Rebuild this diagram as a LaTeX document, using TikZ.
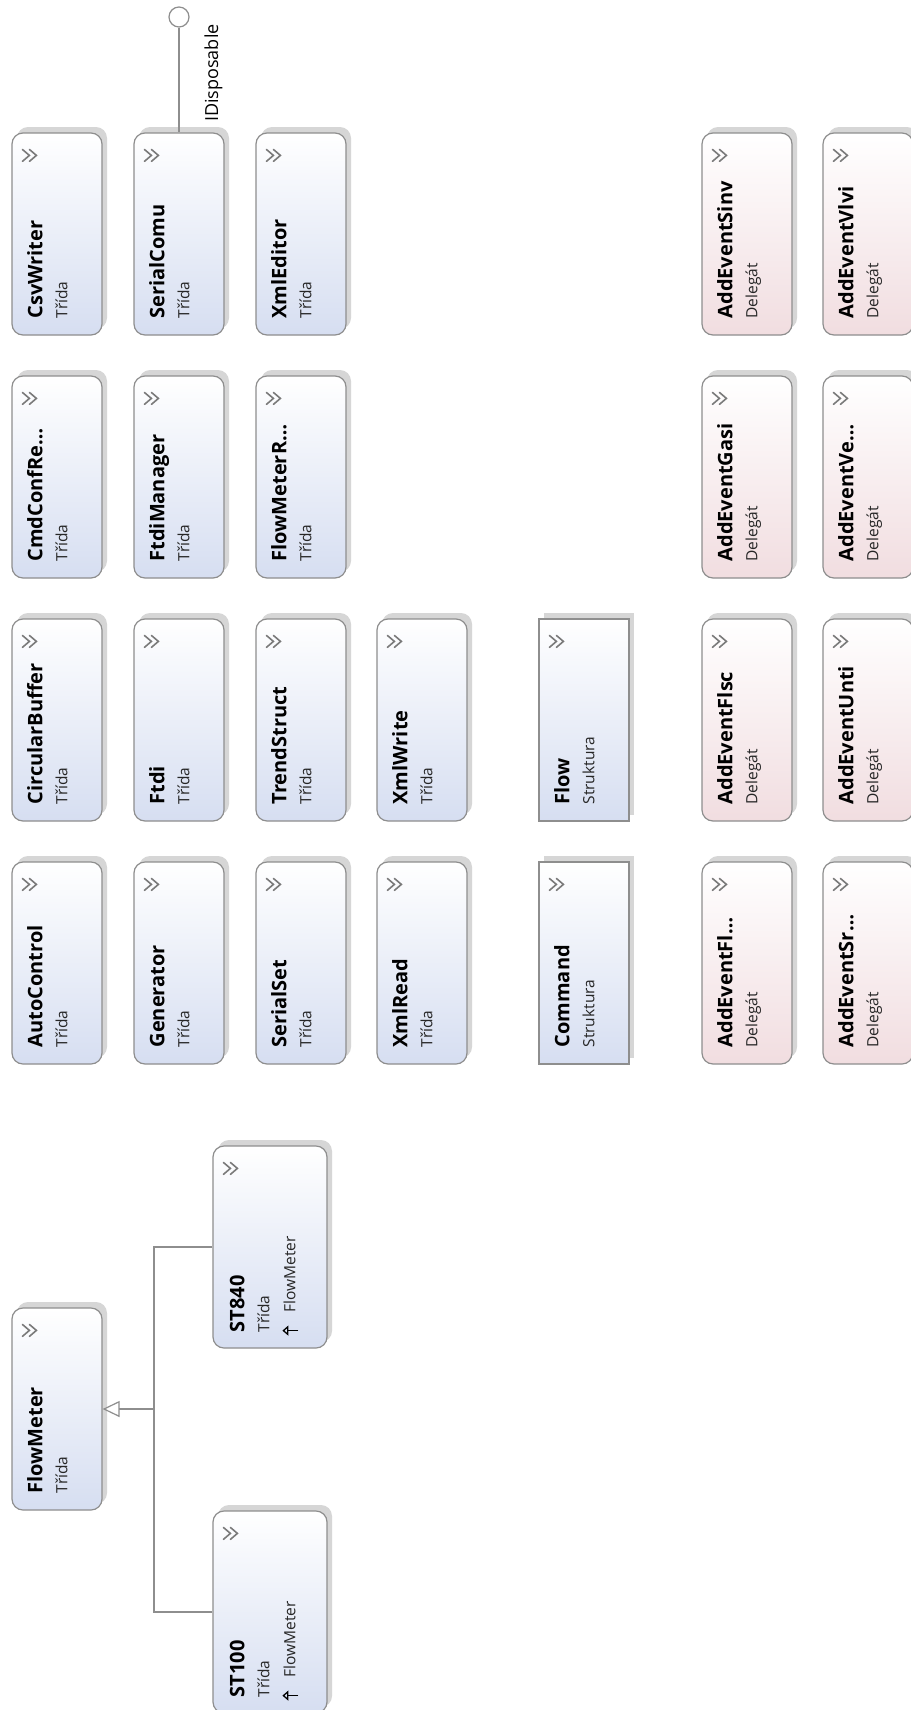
\documentclass[tikz,border=0pt]{standalone}
\usepackage{fontspec}
\setmainfont{Open Sans}
\usetikzlibrary{arrows.meta,calc,shadows}

\definecolor{classblue}{HTML}{D6DEF1}
\definecolor{delegatepink}{HTML}{F1DDE0}
\definecolor{boxline}{HTML}{8E8E8E}
\definecolor{boxshadow}{HTML}{D6D6D6}
\definecolor{chevgray}{HTML}{7A7A7A}

\begin{document}
\begin{tikzpicture}[
        x=1pt, y=-1pt,
        >=Stealth,
        typebox/.style={draw=boxline, line width=1.2pt, rounded corners=11pt,
            minimum width=90pt, minimum height=202pt, inner sep=0pt,
            drop shadow={shadow xshift=5pt, shadow yshift=6pt, fill=boxshadow, opacity=1}},
        classbox/.style={typebox, top color=white, bottom color=classblue},
        delegatebox/.style={typebox, top color=white, bottom color=delegatepink},
        structbox/.style={classbox, sharp corners},
        nametext/.style={rotate=90, anchor=base west, inner sep=0pt,
            font=\fontsize{20}{24}\selectfont\bfseries},
        kindtext/.style={rotate=90, anchor=base west, inner sep=0pt, text=black!85,
            font=\fontsize{15.5}{19}\selectfont},
        chevron/.style={draw=chevgray, line width=1.6pt, line cap=round},
        link/.style={draw=boxline, line width=1.2pt}
    ]

\path[use as bounding box, fill=white] (0,0) rectangle (910,1710);

% classes
\foreach \id/\cx/\cy/\title in {
        csv/57/234/CsvWriter, cmdconf/57/477/CmdConfRe…, circbuf/57/720/CircularBuffer, autoctl/57/963/AutoControl,
        serialcomu/179/234/SerialComu, ftdimgr/179/477/FtdiManager, ftdi/179/720/Ftdi, generator/179/963/Generator,
        xmleditor/301/234/XmlEditor, flowmeterr/301/477/FlowMeterR…, trend/301/720/TrendStruct, serialset/301/963/SerialSet,
        xmlwrite/422/720/XmlWrite, xmlread/422/963/XmlRead,
        flowmeter/57/1409/FlowMeter}{
    \node[classbox] (\id) at (\cx,\cy) {};
    \node[nametext] (\id-name) at ($(\id.south west)+(31,-17)$) {\title};
    \node[kindtext] (\id-kind) at ($(\id.south west)+(56,-17)$) {Třída};
    \draw[chevron] ($(\id.north west)+(11,17)$) -- ++(7,6) -- ++(-7,6)
        ($(\id.north west)+(18,17)$) -- ++(7,6) -- ++(-7,6);
}

% structs
\foreach \id/\cx/\cy/\title in {flow/584/720/Flow, command/584/963/Command}{
    \node[structbox] (\id) at (\cx,\cy) {};
    \node[nametext] (\id-name) at ($(\id.south west)+(31,-17)$) {\title};
    \node[kindtext] (\id-kind) at ($(\id.south west)+(56,-17)$) {Struktura};
    \draw[chevron] ($(\id.north west)+(11,17)$) -- ++(7,6) -- ++(-7,6)
        ($(\id.north west)+(18,17)$) -- ++(7,6) -- ++(-7,6);
}

% delegates
\foreach \id/\cx/\cy/\title in {
        evsinv/747/234/AddEventSinv, evgasi/747/477/AddEventGasi, evflsc/747/720/AddEventFlsc, evfl/747/963/AddEventFl…,
        evvlvi/868/234/AddEventVlvi, evve/868/477/AddEventVe…, evunti/868/720/AddEventUnti, evsr/868/963/AddEventSr…}{
    \node[delegatebox] (\id) at (\cx,\cy) {};
    \node[nametext] (\id-name) at ($(\id.south west)+(31,-17)$) {\title};
    \node[kindtext] (\id-kind) at ($(\id.south west)+(56,-17)$) {Delegát};
    \draw[chevron] ($(\id.north west)+(11,17)$) -- ++(7,6) -- ++(-7,6)
        ($(\id.north west)+(18,17)$) -- ++(7,6) -- ++(-7,6);
}

% subclasses of FlowMeter
\foreach \id/\cy/\title in {st840/1247/ST840, st100/1612/ST100}{
    \node[classbox, minimum width=114pt] (\id) at (270,\cy) {};
    \node[nametext] (\id-name) at ($(\id.south west)+(32,-16)$) {\title};
    \node[kindtext] (\id-kind) at ($(\id.south west)+(57,-16)$) {Třída};
    \node[kindtext] (\id-base) at ($(\id.south west)+(83,-36)$) {FlowMeter};
    \draw[line width=1.3pt, -{Triangle[open, length=6pt, width=10pt]}]
        ($(\id.south west)+(86,-18)$) -- ($(\id.south west)+(70,-18)$);
    \draw[chevron] ($(\id.north west)+(11,17)$) -- ++(7,6) -- ++(-7,6)
        ($(\id.north west)+(18,17)$) -- ++(7,6) -- ++(-7,6);
}

\coordinate (fork) at (154,1409);
\draw[link] (st840.west) -| (fork) (st100.west) -| (fork);
\draw[link, -{Triangle[open, length=17pt, width=16pt]}] (fork) -- (flowmeter.east);

% interface
\node[circle, draw=boxline, line width=1.2pt, fill=white, minimum size=20pt, inner sep=0pt] (idisp) at (179,17) {};
\draw[link] (idisp.south) -- (serialcomu.north);
\node[rotate=90, anchor=base west, inner sep=0pt, font=\fontsize{18}{22}\selectfont] (idisp-name) at (218,122) {IDisposable};

\end{tikzpicture}
\end{document}
